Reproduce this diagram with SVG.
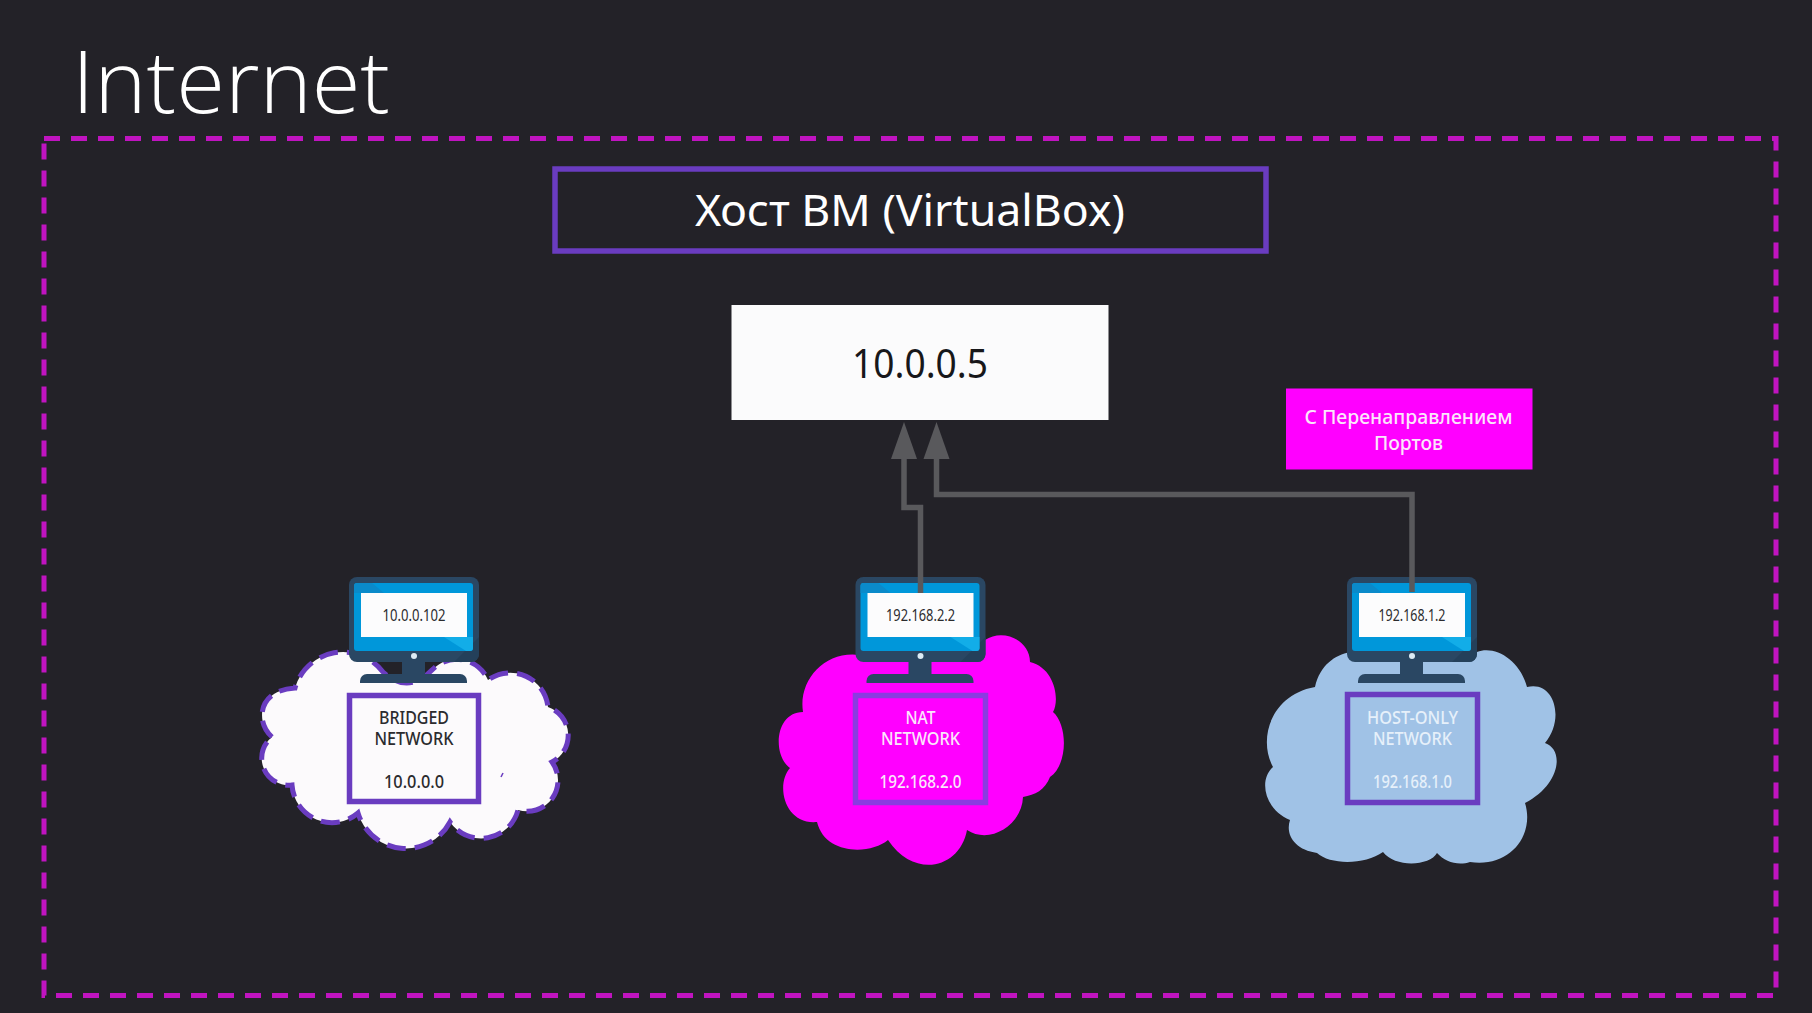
<svg xmlns="http://www.w3.org/2000/svg" width="1812" height="1013" viewBox="0 0 1812 1013">
<style>
text{font-family:"Noto Sans","Open Sans",sans-serif;text-anchor:middle}
.frame{fill:#2a4763}
.scr{fill:#0097da}
.shine{fill:#12ade8}
.ipbox{fill:#fcfcfd}
.ip{font-size:16px;fill:#2b2b2e}
.lbl{font-size:18px;font-weight:500}
.box{fill:none;stroke-width:5.500;stroke:#6a3cc0}
.conn{fill:none;stroke:#59595c;stroke-width:5.500;marker-end:url(#arrow)}
</style>
<defs>
<marker id="arrow" markerUnits="userSpaceOnUse" markerWidth="37" markerHeight="28" refX="1" refY="14" orient="auto" overflow="visible"><path d="M0 1L37 14L0 27Z" fill="#59595c"/></marker>
<g id="monitor">
<rect x="-65" y="0" width="130" height="85" rx="8" class="frame"/>
<path d="M40 85L65 60V77a8 8 0 0 1-8 8Z" fill="#24405a"/>
<rect x="-60" y="6" width="119" height="68" rx="3" class="scr"/>
<path d="M-60 9a3 3 0 0 1 3-3H-42L-30 16H-60Z" fill="#0a8aca"/>
<path d="M30 60H59V71a3 3 0 0 1-3 3H52Z" class="shine"/>
<rect x="-12" y="85" width="23" height="14" class="frame"/>
<path d="M-54 106V104a7 7 0 0 1 7-7H46a7 7 0 0 1 7 7V106Z" class="frame"/>
<circle cx="0" cy="79" r="3" fill="#dcebf5"/>
<rect x="-53" y="16" width="106" height="44" class="ipbox"/>
</g>
</defs>
<rect width="1812" height="1013" fill="#232228"/>
<text x="231" y="113" style="font-size:87px;font-weight:300;fill:#fff;font-family:'Open Sans','Noto Sans',sans-serif" textLength="318" lengthAdjust="spacingAndGlyphs">Internet</text>
<rect id="internet-boundary" x="44" y="138.500" width="1732" height="857" fill="none" stroke="#c014c0" stroke-width="5" stroke-dasharray="16 11"/>

<g id="host">
<rect x="555" y="169" width="711" height="82" class="box"/>
<text x="910" y="226" style="font-size:43px;fill:#fff" textLength="430" lengthAdjust="spacingAndGlyphs">Хост ВМ (VirtualBox)</text>
</g>
<g id="ip-host">
<rect x="731.500" y="305" width="377" height="115" fill="#fbfbfc"/>
<text x="920" y="378" style="font-size:40px;fill:#17171a" textLength="136" lengthAdjust="spacingAndGlyphs">10.0.0.5</text>
</g>
<g id="port-forward">
<rect x="1286" y="388.500" width="246.500" height="81" fill="#ff00ff"/>
<text x="1408.500" y="423.500" style="font-size:19.500px;font-weight:500;fill:#fbe6fb" textLength="208" lengthAdjust="spacingAndGlyphs">С Перенаправлением</text>
<text x="1408.500" y="449.500" style="font-size:19.500px;font-weight:500;fill:#fbe6fb" textLength="69" lengthAdjust="spacingAndGlyphs">Портов</text>
</g>

<g id="bridged">
<path d="M272 737C255 722 258 690 295 688A50 50 0 0 1 383 672Q408 695 432 670A34 34 0 0 1 488 680A38 38 0 0 1 548 707A30 30 0 0 1 552 762A31 31 0 0 1 518 810A38 38 0 0 1 450 822A50 50 0 0 1 358 813A40 40 0 0 1 292 785A27 27 0 0 1 272 737Z" fill="#fcfafc" stroke="#6a3cc0" stroke-width="5" stroke-dasharray="19 9"/>
<path d="M501 777L503 773" stroke="#6a3cc0" stroke-width="1.500"/>
<use href="#monitor" x="414" y="577"/>
<text x="414" y="621" class="ip" textLength="63" lengthAdjust="spacingAndGlyphs">10.0.0.102</text>
<rect x="349.500" y="695.500" width="129" height="106" class="box"/>
<g class="lbl" fill="#2b2b2e">
<text x="414" y="724" textLength="70" lengthAdjust="spacingAndGlyphs">BRIDGED</text>
<text x="414" y="745" textLength="79" lengthAdjust="spacingAndGlyphs">NETWORK</text>
<text x="414" y="788" textLength="60" lengthAdjust="spacingAndGlyphs">10.0.0.0</text>
</g>
</g>

<g id="nat">
<path d="M803 712C798 680 825 650 860 655L985 640C1003 628 1030 640 1030 662C1055 668 1060 700 1053 712C1068 725 1068 765 1050 777C1045 790 1035 795 1023 797C1022 825 990 845 967 830C960 868 915 880 888 840C870 855 825 855 817 822C785 825 775 785 790 768C772 755 775 712 803 712Z" fill="#ff00ff"/>
<use href="#monitor" x="920.500" y="577"/>
<text x="920.500" y="621" class="ip" textLength="69" lengthAdjust="spacingAndGlyphs">192.168.2.2</text>
<rect x="855.500" y="695.500" width="130" height="107" class="box" style="stroke:#8a3ce0"/>
<g class="lbl" fill="#fbe6fb">
<text x="920.500" y="724" textLength="30" lengthAdjust="spacingAndGlyphs">NAT</text>
<text x="920.500" y="745" textLength="79" lengthAdjust="spacingAndGlyphs">NETWORK</text>
<text x="920.500" y="788" textLength="82" lengthAdjust="spacingAndGlyphs">192.168.2.0</text>
</g>
</g>

<g id="host-only">
<path d="M1315 687C1320 665 1335 655 1350 652L1477 652C1495 645 1520 660 1527 687C1555 680 1565 720 1545 743C1565 750 1560 785 1525 803C1535 835 1510 868 1470 862C1458 866 1445 862 1437 853C1430 866 1395 868 1383 852C1365 865 1330 865 1317 853C1295 850 1285 835 1290 820C1265 810 1258 780 1273 767C1258 740 1270 695 1315 687Z" fill="#a0c2e6"/>
<use href="#monitor" x="1412" y="577"/>
<text x="1412" y="621" class="ip" textLength="67" lengthAdjust="spacingAndGlyphs">192.168.1.2</text>
<rect x="1347.500" y="694.500" width="130" height="108" class="box"/>
<g class="lbl" fill="#e6f0fa">
<text x="1412.500" y="724" textLength="91" lengthAdjust="spacingAndGlyphs">HOST-ONLY</text>
<text x="1412.500" y="745" textLength="79" lengthAdjust="spacingAndGlyphs">NETWORK</text>
<text x="1412.500" y="788" textLength="79" lengthAdjust="spacingAndGlyphs">192.168.1.0</text>
</g>
</g>

<g id="connectors">
<path class="conn" d="M920.500 593V507.500H904V458"/>
<path class="conn" d="M1412 592V494.500H936.500V458"/>
</g>
</svg>
